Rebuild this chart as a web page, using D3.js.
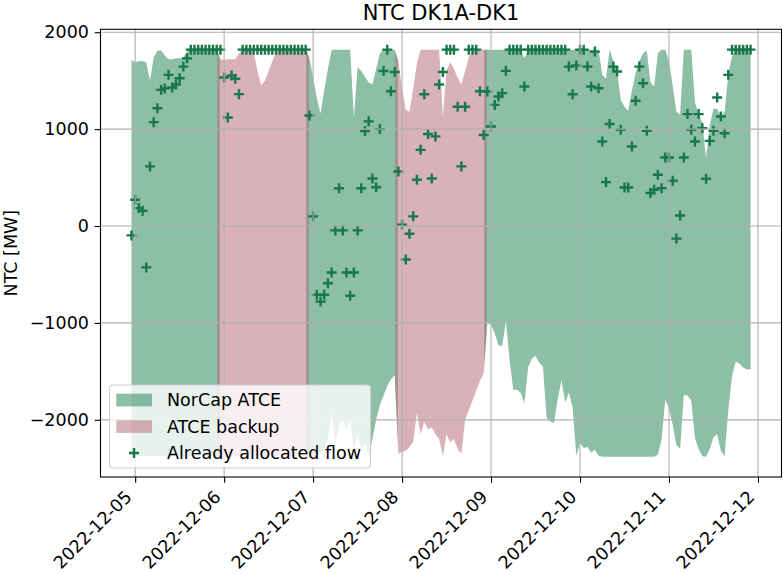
<!DOCTYPE html>
<html><head><meta charset="utf-8">
<script src="https://cdn.jsdelivr.net/npm/d3@7"></script>
<style>body{margin:0;background:#fff} text{font-family:"DejaVu Sans",sans-serif}</style>
</head><body>
<script>
// ---------- data ----------
const title = "NTC DK1A-DK1";
const yLabel = "NTC [MW]";
const firstHourUTC = Date.UTC(2022, 11, 4, 23);   // hourly series, CET days
const dayMethod = ["NorCap","Backup","NorCap","Backup","NorCap","NorCap","NorCap"];
const atceMax = [
 1714,1690,1700,1700,1690,1500,1740,1810,1810,1760,1720,1720,1730,1730,1740,1800,1820,1820,1820,1820,1820,1820,1820,1820,
 1720,1710,1720,1720,1720,1780,1820,1820,1820,1790,1600,1450,1500,1600,1700,1790,1820,1820,1820,1820,1820,1820,1820,1820,
 1740,1530,1320,1160,1400,1620,1820,1820,1820,1820,1820,1820,1120,1640,1600,1540,1480,1460,1620,1780,1820,1820,1820,1820,
 1700,1420,1200,1180,1420,1680,1820,1820,1820,1820,1820,1820,1130,1600,1690,1620,1530,1460,1600,1740,1820,1820,1820,1820,
 1820,1820,1820,1820,1820,1820,1820,1820,1820,1820,1730,1820,1820,1820,1820,1820,1820,1820,1820,1820,1820,1820,1820,1820,
 1820,1820,1820,1820,1820,1820,1820,1560,1520,1820,1700,1600,1300,1230,1190,1400,1580,1700,1780,1810,1480,1440,1780,1820,
 1820,1700,1450,1180,1150,1820,1820,1820,1280,1150,1070,700,1040,1210,1210,1130,1180,1560,1750,1820,1820,1820,1820,1820
];
const atceMin = [
 -2360,-2370,-2375,-2370,-2375,-2375,-2370,-2375,-2375,-2370,-2375,-2375,-2370,-2375,-2375,-2370,-2375,-2375,-2370,-2375,-2375,-2370,-2375,-2375,
 -2375,-2380,-2375,-2380,-2375,-2380,-2375,-2380,-2375,-2380,-2375,-2380,-2375,-2380,-2375,-2380,-2375,-2380,-2375,-2380,-2375,-2380,-2375,-2380,
 -2380,-2375,-2370,-2350,-2300,-2200,-1920,-2250,-2050,-2000,-2100,-2000,-2300,-2150,-2300,-2250,-2370,-2200,-2000,-1850,-1750,-1650,-1580,-1540,
 -2350,-2330,-2320,-2280,-2230,-1930,-2150,-2020,-2100,-2080,-2150,-2200,-2375,-2150,-2230,-2200,-2300,-2350,-2000,-1900,-1800,-1700,-1600,-1520,
 -1000,-1020,-1110,-1230,-1240,-980,-1380,-1690,-1690,-1720,-1830,-1460,-1370,-1340,-1410,-1450,-1980,-2020,-2030,-1780,-1590,-1820,-1720,-1870,
 -2370,-2240,-2290,-2280,-2340,-2310,-2370,-2380,-2380,-2380,-2380,-2380,-2380,-2380,-2380,-2380,-2380,-2380,-2380,-2380,-2380,-2380,-2360,-2200,
 -1790,-1880,-2050,-2260,-2300,-1740,-1750,-1800,-2190,-2300,-2375,-2380,-2300,-2180,-2150,-2320,-2375,-1900,-1550,-1400,-1420,-1460,-1480,-1480
];
const allocatedFlow = [
 -97,271,185,158,-427,615,1072,1216,1405,1420,1560,1430,1460,1525,1645,1730,1820,1820,1820,1820,1820,1820,1820,1820,
 1820,1532,1120,1553,1519,1361,1820,1820,1820,1820,1820,1820,1820,1820,1820,1820,1820,1820,1820,1820,1820,1820,1820,1820,
 1140,100,-710,-780,-710,-590,-480,-45,390,-45,-480,-720,-480,-45,390,980,1080,490,400,1000,1600,1820,1390,1590,
 563,13,-345,-80,100,477,786,1360,950,490,925,1460,1590,1820,1820,1820,1230,615,1230,1820,1820,1820,1390,940,
 1388,1027,1250,1336,1371,1601,1820,1820,1820,1820,1440,1820,1820,1820,1820,1820,1820,1820,1820,1820,1820,1820,1645,1360,
 1656,1820,1820,1645,1440,1800,1422,872,453,1052,1645,1594,993,398,398,821,1292,1645,1474,982,340,374,529,391,
 707,707,467,-130,109,707,1155,993,872,1155,1010,488,879,982,1326,1130,958,1560,1820,1820,1820,1820,1820,1820
];
const yTicks = [-2000,-1000,0,1000,2000];
const xTickLabels = ["2022-12-05","2022-12-06","2022-12-07","2022-12-08","2022-12-09","2022-12-10","2022-12-11","2022-12-12"];
const legendLabels = ["NorCap ATCE","ATCE backup","Already allocated flow"];

// ---------- style ----------
const W = 783, H = 574;
const M = {left:100.5, right:781.5, top:29.3, bottom:477};
const colNorCap = "#1b7f4f", colBackup = "#b16373", colFlow = "#17784a";
const FS = 17.5;

const times = allocatedFlow.map((_, i) => new Date(firstHourUTC + i*3600e3));
const n = times.length;

const svg = d3.select("body").append("svg").attr("width", W).attr("height", H);

const t0 = times[0], t1 = times[n-1], span = t1 - t0;
const x = d3.scaleUtc().domain([new Date(+t0 - 0.05*span), new Date(+t1 + 0.05*span)]).range([M.left, M.right]);
const yMin = d3.min(atceMin), yMax = d3.max(atceMax), ySpan = yMax - yMin;
const y = d3.scaleLinear().domain([yMin - 0.05*ySpan, yMax + 0.05*ySpan]).range([M.bottom, M.top]);

const defs = svg.append("defs");

// segments of consecutive days with same method
const segs = [];
dayMethod.forEach((m, d) => {
  if (segs.length && segs[segs.length-1].m === m) segs[segs.length-1].end = d*24+23;
  else segs.push({m, start:d*24, end:d*24+23});
});

const area = d3.area().x(i => x(times[i])).y0(i => y(atceMin[i])).y1(i => y(atceMax[i]));
const gFill = svg.append("g");
["NorCap","Backup"].forEach(m => {
  segs.forEach((s, k) => {
    if (s.m !== m) return;
    const a = Math.max(s.start - 1, 0), b = Math.min(s.end + 1, n - 1);
    const xa = k > 0 ? (x(times[s.start-1]) + x(times[s.start]))/2 - 1.3 : M.left;
    const xb = k < segs.length-1 ? (x(times[s.end]) + x(times[s.end+1]))/2 + 1.3 : M.right;
    const id = "seg" + k;
    defs.append("clipPath").attr("id", id).append("rect")
      .attr("x", xa).attr("y", M.top).attr("width", xb - xa).attr("height", M.bottom - M.top);
    gFill.append("path").attr("d", area(d3.range(a, b + 1))).attr("clip-path", `url(#${id})`)
      .attr("fill", m === "NorCap" ? colNorCap : colBackup).attr("fill-opacity", 0.5);
  });
});

// flow markers
const cross = "M-5,0H5M0,-5V5";
svg.append("g").selectAll("path").data(d3.range(n)).join("path")
  .attr("d", cross)
  .attr("transform", i => `translate(${x(times[i])},${y(allocatedFlow[i])})`)
  .attr("stroke", colFlow).attr("stroke-width", 2.4).attr("fill", "none");

// grid
const xTickDates = xTickLabels.map(s => new Date(s + "T00:00:00Z"));
const grid = svg.append("g").attr("stroke", "#b0b0b0").attr("stroke-width", 1.1);
xTickDates.forEach(d => grid.append("line").attr("x1", x(d)).attr("x2", x(d)).attr("y1", M.top).attr("y2", M.bottom));
yTicks.forEach(v => grid.append("line").attr("x1", M.left).attr("x2", M.right).attr("y1", y(v)).attr("y2", y(v)));

// axes
const xAxis = d3.axisBottom(x).tickValues(xTickDates).tickFormat((d,i) => xTickLabels[i]).tickSize(5.8).tickPadding(0);
const gx = svg.append("g").attr("transform", `translate(0,${M.bottom})`).call(xAxis);
gx.select(".domain").remove();
gx.selectAll("line").attr("stroke", "#000").attr("stroke-width", 1.1);
gx.selectAll("text")
  .attr("font-size", FS).attr("fill", "#000").attr("font-family", "DejaVu Sans")
  .attr("text-anchor", "end").attr("dy", null).attr("y", null)
  .attr("transform", `translate(${-0.707*0.23*FS},${11.6 + 0.707*0.76*FS}) rotate(-45)`);

const yAxis = d3.axisLeft(y).tickValues(yTicks).tickFormat(v => v < 0 ? "\u2212" + Math.abs(v) : String(v)).tickSize(5.8).tickPadding(5.8);
const gy = svg.append("g").attr("transform", `translate(${M.left},0)`).call(yAxis);
gy.select(".domain").remove();
gy.selectAll("line").attr("stroke", "#000").attr("stroke-width", 1.1);
gy.selectAll("text").attr("font-size", FS).attr("fill", "#000").attr("font-family", "DejaVu Sans");

// frame
svg.append("rect").attr("x", M.left).attr("y", M.top).attr("width", M.right-M.left).attr("height", M.bottom-M.top)
  .attr("fill", "none").attr("stroke", "#000").attr("stroke-width", 1.1);

// title & label
svg.append("text").attr("x", (M.left+M.right)/2).attr("y", 20).attr("text-anchor", "middle")
  .attr("font-size", 21).text(title);
svg.append("text").attr("transform", `translate(17,${(M.top+M.bottom)/2}) rotate(-90)`)
  .attr("text-anchor", "middle").attr("font-size", FS).text(yLabel);

// legend
const lg = svg.append("g");
lg.append("rect").attr("x", 109.5).attr("y", 385).attr("width", 261).attr("height", 83).attr("rx", 3.5)
  .attr("fill", "#fff").attr("fill-opacity", 0.8).attr("stroke", "#cccccc").attr("stroke-width", 1.1);
const rows = [400, 426.5, 453];
[colNorCap, colBackup].forEach((c, k) => {
  lg.append("rect").attr("x", 116.3).attr("y", rows[k]-6.3).attr("width", 35.7).attr("height", 12.7)
    .attr("fill", c).attr("fill-opacity", 0.5);
});
lg.append("path").attr("d", cross).attr("transform", `translate(134,${rows[2]})`)
  .attr("stroke", colFlow).attr("stroke-width", 2.4).attr("fill", "none");
legendLabels.forEach((t, k) => {
  lg.append("text").attr("x", 167).attr("y", rows[k]).attr("dy", "0.36em").attr("font-size", FS).text(t);
});
</script>
</body></html>
